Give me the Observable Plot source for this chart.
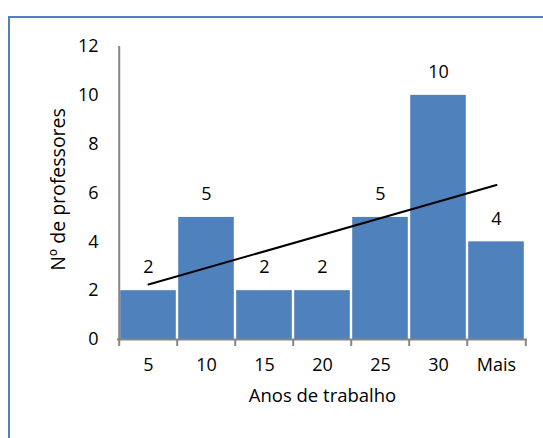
<!DOCTYPE html>
<html>
<head>
<meta charset="utf-8">
<script src="https://cdn.jsdelivr.net/npm/d3@7"></script>
<script src="https://cdn.jsdelivr.net/npm/@observablehq/plot@0.6"></script>
<style>
  html, body { margin: 0; padding: 0; background: #fff; overflow: hidden; }
  #wrap { position: relative; width: 543px; height: 438px; overflow: hidden; }
  #border { position: absolute; left: 8px; top: 16px; width: 800px; height: 800px;
            border-left: 2px solid #4F81BD; border-top: 2px solid #4F81BD; box-sizing: border-box; }
  #chart { position: absolute; left: 0; top: 0; }
</style>
</head>
<body>
<div id="wrap"><div id="border"></div><div id="chart"></div></div>
<script>
const categories = ["5", "10", "15", "20", "25", "30", "Mais"];
const counts = [2, 5, 2, 2, 5, 10, 4];
const yTicks = [0, 2, 4, 6, 8, 10, 12];
const trendCats = ["5", "Mais"];
const trendValues = [2.25, 6.33];

const data = categories.map((c, i) => ({cat: c, n: counts[i]}));
const trend = trendCats.map((c, i) => ({cat: c, v: trendValues[i]}));

const W = 543, H = 438, mL = 117, mR = 16, mT = 46, mB = 99;
const bw = (W - mL - mR) / categories.length;
const font = "'Open Sans', Lato, sans-serif";
const fs = 18;
const axisColor = "#868686";

const plot = Plot.plot({
  width: W, height: H,
  marginLeft: mL, marginRight: mR, marginTop: mT, marginBottom: mB,
  style: {fontFamily: font, fontSize: fs + "px", color: "#000", background: "transparent"},
  x: {type: "band", domain: categories, paddingInner: 0, paddingOuter: 0, label: null},
  y: {domain: [0, 12], label: null},
  marks: [
    Plot.barY(data, {x: "cat", y: "n", fill: "#4F81BD", insetLeft: 1.2, insetRight: 1.2}),
    Plot.ruleY([0], {stroke: axisColor, strokeWidth: 2}),
    Plot.ruleX([categories[0]], {x: d => d, dx: -bw / 2, y1: 0, y2: 12, stroke: axisColor, strokeWidth: 2}),
    Plot.ruleX(categories, {x: d => d, dx: -bw / 2, y1: 0, y2: 0, insetBottom: -7, stroke: axisColor, strokeWidth: 2}),
    Plot.ruleX([categories[categories.length - 1]], {x: d => d, dx: bw / 2, y1: 0, y2: 0, insetBottom: -7, stroke: axisColor, strokeWidth: 2}),
    Plot.ruleY(yTicks, {y: d => d, x1: categories[0], x2: categories[0], dx: -bw / 2, insetLeft: -6, stroke: axisColor, strokeWidth: 2}),
    Plot.axisY({ticks: yTicks, tickSize: 0, tickPadding: 19, fontSize: fs, label: null}),
    Plot.axisX({tickSize: 0, tickPadding: 19, fontSize: fs, label: null}),
    Plot.text(["Anos de trabalho"], {frameAnchor: "bottom", dy: 62, fontSize: 18.5}),
    Plot.text(["Nº de professores"], {frameAnchor: "left", textAnchor: "middle", dx: -59, dy: -3.5, rotate: -90, fontSize: 19.5}),
    Plot.line(trend, {x: "cat", y: "v", stroke: "#000", strokeWidth: 2}),
    Plot.text(data, {x: "cat", y: "n", text: d => String(d.n), dy: -23, fontSize: fs, fill: "#000"})
  ]
});
document.getElementById("chart").appendChild(plot);
</script>
</body>
</html>
